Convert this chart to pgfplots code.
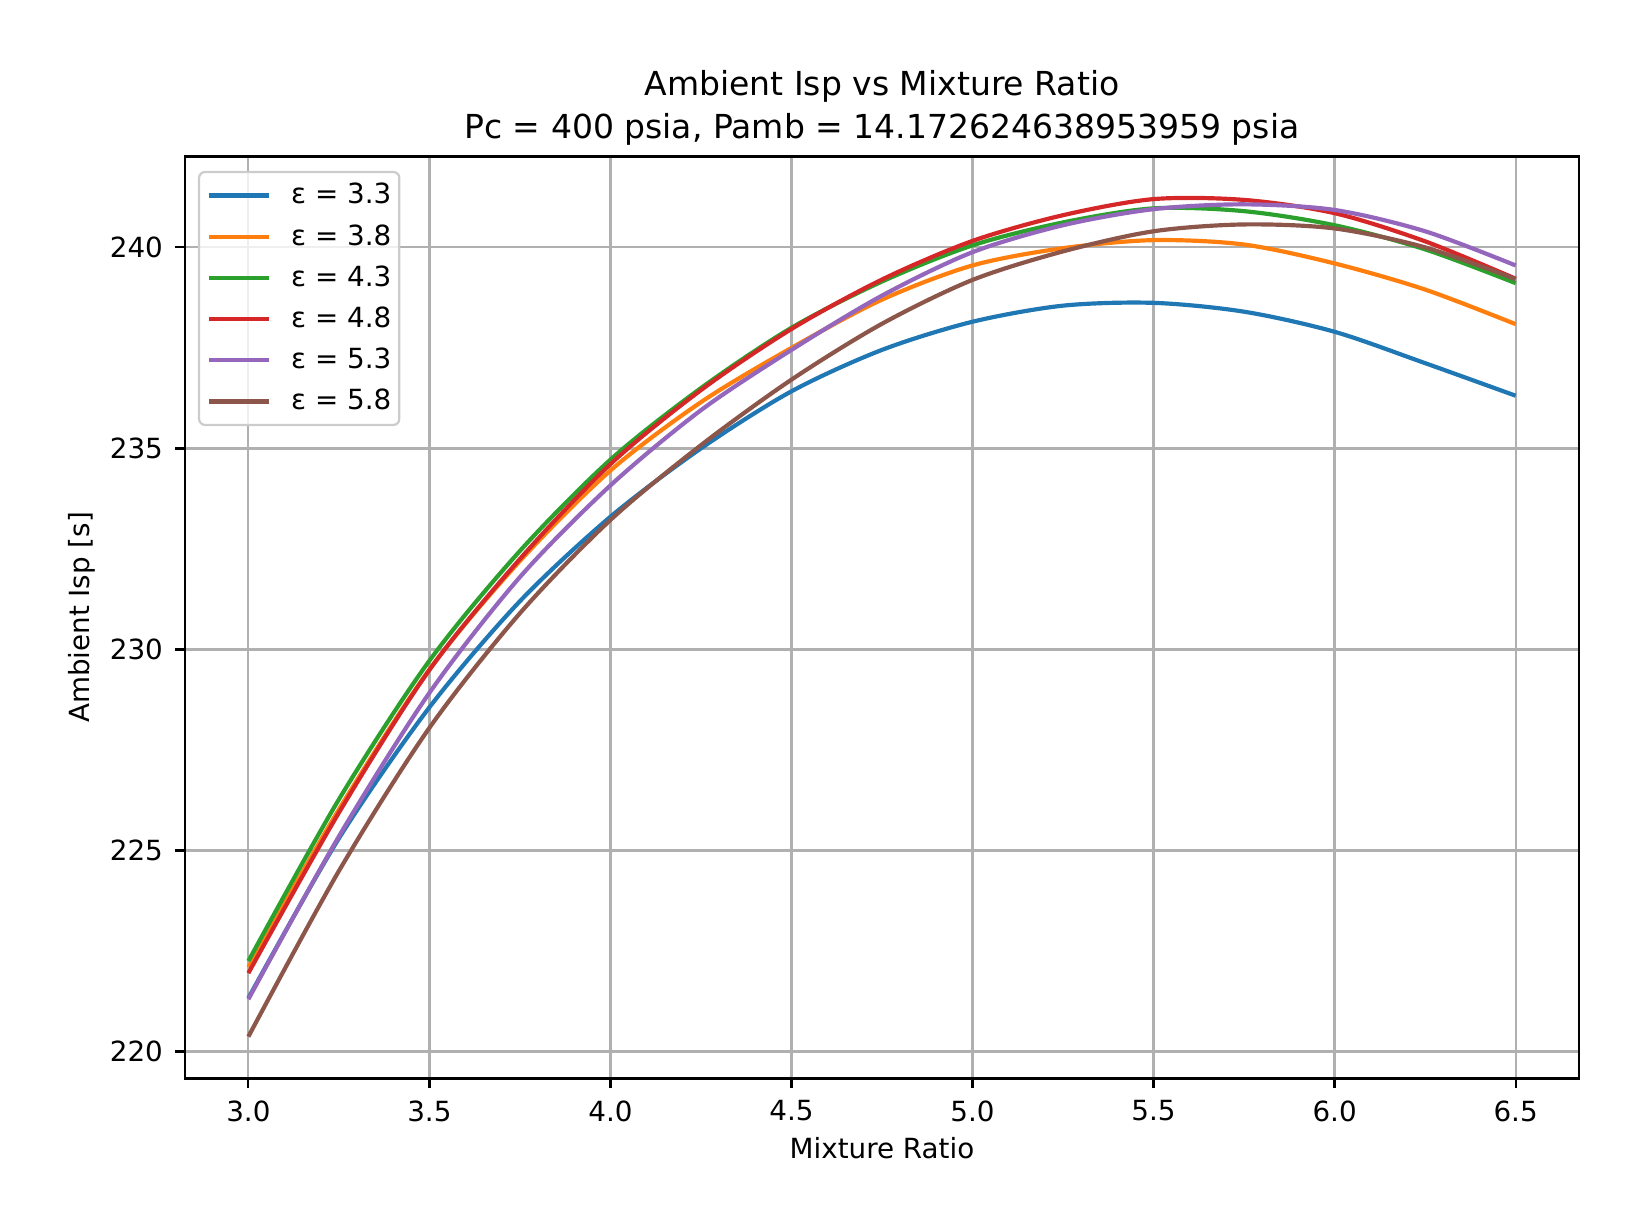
\documentclass[border=0pt]{standalone}
\usepackage{fontspec}
\setmainfont{DejaVu Sans}
\usepackage{pgfplots}
\usepackage{pgfplotstable}
\pgfplotsset{compat=1.18}

\definecolor{c0}{RGB}{31,119,180}
\definecolor{c1}{RGB}{255,127,14}
\definecolor{c2}{RGB}{44,160,44}
\definecolor{c3}{RGB}{214,39,40}
\definecolor{c4}{RGB}{148,103,189}
\definecolor{c5}{RGB}{140,86,75}
\definecolor{gridgray}{RGB}{176,176,176}
\definecolor{legedge}{RGB}{204,204,204}

% ambient Isp [s] vs mixture ratio, one column per expansion ratio
\pgfplotstableread{
mr    e33    e38    e43    e48    e53    e58
3.00  221.33 222.10 222.25 221.95 221.30 220.37
3.25  225.30 226.02 226.27 225.94 225.35 224.49
3.50  228.56 229.50 229.72 229.49 228.92 228.05
3.75  231.20 232.20 232.45 232.25 231.80 230.90
4.00  233.30 234.45 234.72 234.61 234.08 233.22
4.25  235.00 236.15 236.50 236.45 235.95 235.08
4.50  236.42 237.50 238.00 237.97 237.45 236.71
4.75  237.45 238.70 239.15 239.20 238.80 238.10
5.00  238.15 239.55 240.05 240.16 239.88 239.19
5.25  238.55 239.98 240.62 240.80 240.55 239.90
5.50  238.62 240.18 240.97 241.20 240.95 240.40
5.75  238.40 240.07 240.90 241.18 241.07 240.57
6.00  237.90 239.60 240.55 240.85 240.93 240.47
6.25  237.12 238.95 239.95 240.15 240.40 240.00
6.50  236.31 238.09 239.11 239.22 239.55 239.21
}\isptable

\begin{document}
\begin{tikzpicture}
  \useasboundingbox (-1.85cm,-1.495cm) rectangle (14.65cm,10.785cm);
  \begin{axis}[
      at={(0,0)}, anchor=south west,
      scale only axis,
      width=13.94cm, height=9.22cm,
      xmin=2.825, xmax=6.675,
      ymin=219.33, ymax=242.26,
      xtick={3.0,3.5,...,6.5},
      ytick={220,225,230,235,240},
      xticklabel style={/pgf/number format/.cd, fixed, fixed zerofill, precision=1},
      tick label style={font=\fontsize{7.9}{9}\selectfont},
      /pgf/number format/assume math mode=true,
      tick align=outside, tick pos=left,
      major tick length=2.77pt,
      every tick/.style={black, line width=0.63pt},
      axis line style={line width=0.63pt},
      grid=major,
      major grid style={gridgray, line width=0.63pt},
      title={Ambient Isp vs Mixture Ratio\\Pc = 400 psia, Pamb = 14.172624638953959 psia},
      title style={at={(axis description cs:0.5,1.030)}, anchor=center, align=center,
        font=\fontsize{9.4}{12.1}\selectfont},
      xlabel={Mixture Ratio},
      ylabel={Ambient Isp [s]},
      xlabel style={at={(axis description cs:0.5,-0.0755)}, anchor=center,
        font=\fontsize{7.9}{9}\selectfont},
      ylabel style={at={(axis description cs:-0.0742,0.5)}, anchor=center,
        font=\fontsize{7.9}{9}\selectfont},
      legend cell align=left,
      legend style={at={(0.0093,0.9844)}, anchor=north west,
        draw=legedge, fill=white, fill opacity=0.8, text opacity=1,
        rounded corners=0.6mm, line width=0.63pt,
        inner xsep=0.8mm, inner ysep=1mm,
        font=\fontsize{7.9}{9}\selectfont,
        nodes={inner sep=0pt, text height=2.2mm, text depth=0.5mm},
        row sep=1.42mm,
        /tikz/every odd column/.append style={column sep=2.0mm}},
      legend image code/.code={\draw[#1] (0mm,0mm) -- (6mm,0mm);},
      every axis plot/.append style={line width=1.19pt, smooth},
    ]
    \addplot[c0] table[x=mr, y=e33] {\isptable};
    \addlegendentry{ε = 3.3}
    \addplot[c1] table[x=mr, y=e38] {\isptable};
    \addlegendentry{ε = 3.8}
    \addplot[c2] table[x=mr, y=e43] {\isptable};
    \addlegendentry{ε = 4.3}
    \addplot[c3] table[x=mr, y=e48] {\isptable};
    \addlegendentry{ε = 4.8}
    \addplot[c4] table[x=mr, y=e53] {\isptable};
    \addlegendentry{ε = 5.3}
    \addplot[c5] table[x=mr, y=e58] {\isptable};
    \addlegendentry{ε = 5.8}
  \end{axis}
\end{tikzpicture}
\end{document}
